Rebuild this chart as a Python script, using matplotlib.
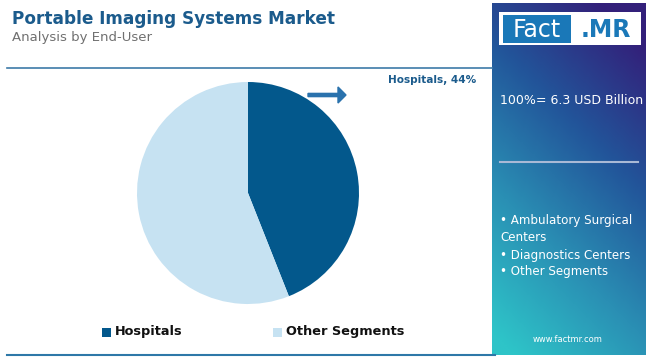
import numpy as np
import matplotlib
matplotlib.use("Agg")
import matplotlib.pyplot as plt
from matplotlib.colors import LinearSegmentedColormap
from matplotlib.patches import Rectangle, FancyArrow

# data
segments = ["Hospitals", "Other Segments"]
shares = [44, 56]
colors = ["#03588c", "#c6e2f2"]
total_label = "100%= 6.3 USD Billion"
other_list = ["• Ambulatory Surgical\nCenters", "• Diagnostics Centers", "• Other Segments"]

W, H = 650, 357
fig = plt.figure(figsize=(W / 100, H / 100), dpi=100)
fig.patch.set_facecolor("white")


def fx(px):
    return px / W


def fy(py):
    return 1 - py / H


# title block
fig.text(fx(12), fy(19), "Portable Imaging Systems Market", fontsize=12.2, fontweight="bold",
         color="#1b5b8c", va="center", ha="left")
fig.text(fx(12), fy(38), "Analysis by End-User", fontsize=9.5, color="#707070", va="center", ha="left")
fig.add_artist(plt.Line2D([fx(7), fx(492)], [fy(68), fy(68)], color="#3d7aa8", lw=1.2))
fig.add_artist(plt.Line2D([fx(7), fx(495)], [fy(355), fy(355)], color="#2e78a8", lw=1.5))

# right panel with gradient
pan = fig.add_axes([fx(492), fy(355), fx(646 - 492), (355 - 3) / H])
cmap = LinearSegmentedColormap.from_list("fm", ["#33207a", "#22559a", "#2a8fb4", "#2ec4c8"])
yy, xx = np.mgrid[0:1:200j, 0:1:100j]
grad = np.clip(0.8 * yy + 0.35 * (1 - xx) - 0.1, 0, 1)
pan.imshow(grad, cmap=cmap, aspect="auto", extent=[0, 1, 0, 1], origin="upper")
pan.set_xlim(0, 1)
pan.set_ylim(0, 1)
pan.axis("off")

# logo
fig.patches.append(Rectangle((fx(499), fy(45)), fx(641 - 499), (45 - 12) / H,
                             transform=fig.transFigure, facecolor="white", edgecolor="none"))
fig.patches.append(Rectangle((fx(503), fy(43)), fx(571 - 503), (43 - 15) / H,
                             transform=fig.transFigure, facecolor="#1a78b8", edgecolor="none"))
fig.text(fx(537), fy(30), "Fact", fontsize=17, color="white", ha="center", va="center")
fig.text(fx(606), fy(30), ".MR", fontsize=17, color="#1a78b8", ha="center", va="center",
         fontweight="bold")

fig.text(fx(500), fy(101), total_label, fontsize=9, color="white", ha="left", va="center")
fig.add_artist(plt.Line2D([fx(500), fx(638)], [fy(162), fy(162)], color="#a9b9d6", lw=1.5))
fig.text(fx(500), fy(229), other_list[0], fontsize=8.6, color="white", ha="left", va="center",
         linespacing=1.45)
fig.text(fx(500), fy(255), other_list[1], fontsize=8.6, color="white", ha="left", va="center")
fig.text(fx(500), fy(272), other_list[2], fontsize=8.6, color="white", ha="left", va="center")
fig.text(fx(568), fy(340), "www.factmr.com", fontsize=6, color="white", ha="center", va="center")

# pie
cx, cy, r = 248, 193, 111
ax = fig.add_axes([fx(cx - r), fy(cy + r), fx(2 * r), 2 * r / H])
ax.pie(shares, colors=colors, startangle=90, counterclock=False, radius=1,
       wedgeprops=dict(linewidth=0))
ax.set_xlim(-1, 1)
ax.set_ylim(-1, 1)
ax.set_aspect("auto")
ax.axis("off")

fig.patches.append(FancyArrow(fx(308), fy(95), fx(30), 0, width=0.009, head_width=0.045,
                              head_length=fx(8), length_includes_head=False,
                              transform=fig.transFigure, color="#2a72ad"))
fig.text(fx(476), fy(80), f"{segments[0]}, {shares[0]}%", fontsize=7.6, fontweight="bold",
         color="#1b5b8c", ha="right", va="center")

# legend
for i, (lab, x0) in enumerate(zip(segments, [102, 273])):
    fig.patches.append(Rectangle((fx(x0), fy(337)), fx(9), 9 / H, transform=fig.transFigure,
                                 facecolor=colors[i], edgecolor="none"))
    fig.text(fx(x0 + 13), fy(332), lab, fontsize=9.3, fontweight="bold", color="#111111",
             ha="left", va="center")

fig.savefig("out.png", dpi=100)
